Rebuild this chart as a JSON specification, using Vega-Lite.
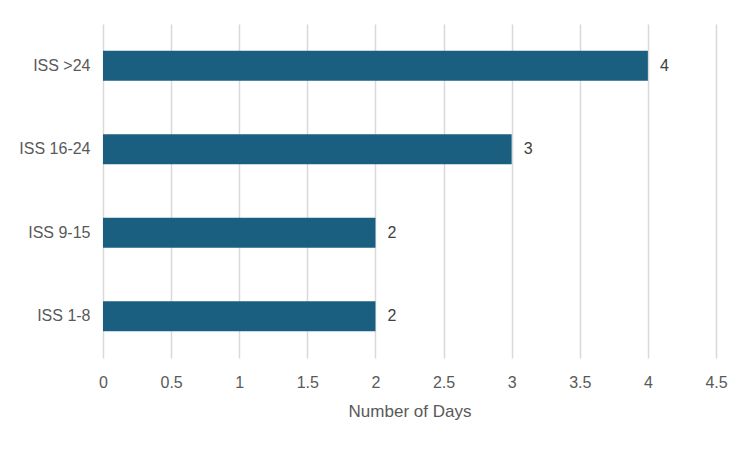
{
  "$schema": "https://vega.github.io/schema/vega-lite/v6.json",
  "width": 613,
  "height": 334,
  "autosize": {"type": "none"},
  "padding": {"left": 103, "top": 24, "right": 35, "bottom": 94},
  "background": "white",
  "config": {
    "view": {"stroke": null},
    "font": "Liberation Sans"
  },
  "data": {
    "values": [
      {"category": "ISS >24", "days": 4},
      {"category": "ISS 16-24", "days": 3},
      {"category": "ISS 9-15", "days": 2},
      {"category": "ISS 1-8", "days": 2}
    ]
  },
  "encoding": {
    "y": {
      "field": "category",
      "type": "nominal",
      "sort": ["ISS >24", "ISS 16-24", "ISS 9-15", "ISS 1-8"],
      "scale": {"paddingInner": 0.64, "paddingOuter": 0.32},
      "axis": {
        "title": null,
        "ticks": false,
        "domain": false,
        "labelPadding": 13,
        "labelFontSize": 16,
        "labelColor": "#595959",
        "grid": false
      }
    },
    "x": {
      "field": "days",
      "type": "quantitative",
      "scale": {"domain": [0, 4.5], "nice": false},
      "axis": {
        "values": [0, 0.5, 1, 1.5, 2, 2.5, 3, 3.5, 4, 4.5],
        "format": "~g",
        "title": "Number of Days",
        "titleFontSize": 17,
        "titleFontWeight": "normal",
        "titleColor": "#595959",
        "titlePadding": 13,
        "ticks": false,
        "domain": false,
        "labelPadding": 16,
        "labelFontSize": 16,
        "labelColor": "#595959",
        "labelFlush": false,
        "grid": true,
        "gridColor": "#d9d9d9",
        "gridWidth": 1.5
      }
    }
  },
  "layer": [
    {"mark": {"type": "bar", "color": "#1a5f80"}},
    {
      "mark": {"type": "text", "align": "left", "dx": 12, "fontSize": 16, "color": "#404040"},
      "encoding": {"text": {"field": "days", "type": "quantitative"}}
    }
  ]
}
